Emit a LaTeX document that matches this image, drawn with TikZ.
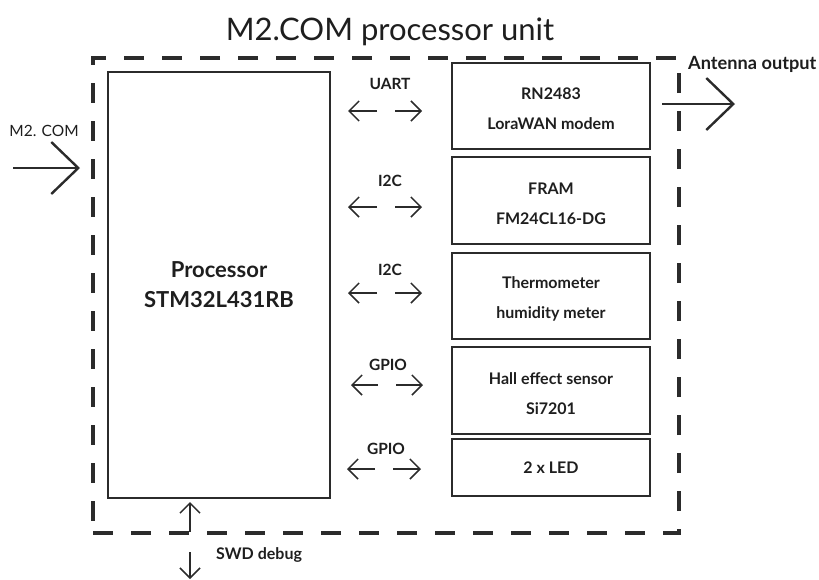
\documentclass[tikz,border=0pt]{standalone}
\usepackage{fontspec}
\setmainfont{Lato}
\usetikzlibrary{arrows.meta}
\definecolor{ink}{HTML}{2B2B2B}
\definecolor{txt}{HTML}{1E1E1E}
\begin{document}
\begin{tikzpicture}[x=1pt,y=-1pt,
  blk/.style={draw=ink, line width=1.3pt, inner sep=0pt, text=txt,
    font=\bfseries\fontsize{16}{30}\selectfont, align=center},
  btxt/.style={inner sep=0pt, text=txt, font=\bfseries\fontsize{16}{30}\selectfont, align=center},
  lbl/.style={text=txt, inner sep=0pt, font=\bfseries\fontsize{15.5}{17}\selectfont},
  sarr/.style={draw=ink, line width=1.5pt, -{Straight Barb[length=10pt,width=20pt]}},
  barr/.style={draw=ink, line width=2.4pt, -{Straight Barb[length=27pt,width=52pt]}},
  unitbox/.style={draw=ink, line width=4pt, dash pattern=on 20pt off 18pt, inner sep=0pt}
]
\useasboundingbox (0,0) rectangle (819,579);

% title
\node[anchor=base, text=txt, inner sep=0pt, font=\fontsize{31}{36}\selectfont] (title) at (390,40) {M2.COM processor unit};

% dashed unit frame
\node[unitbox, minimum width=586pt, minimum height=475pt] (unit) at (386,295.5) {};

% processor
\node[blk, font=\bfseries\fontsize{22}{30}\selectfont, minimum width=222pt, minimum height=426pt] (proc) at (219,285) {Processor\\STM32L431RB};

% peripherals
\node[blk, minimum width=198pt, minimum height=86pt] (rn) at (551,106) {};
\node[blk, minimum width=198pt, minimum height=87pt] (fram) at (551,200.5) {};
\node[blk, minimum width=198pt, minimum height=86pt] (thermo) at (551,296) {};
\node[blk, minimum width=198pt, minimum height=87pt] (hall) at (551,390.5) {};
\node[blk, minimum width=198pt, minimum height=57pt] (led) at (551,467.5) {2 x LED};
\node[btxt] (rnt) at ([yshift=-3pt]rn.center) {RN2483\\LoraWAN modem};
\node[btxt] (framt) at ([yshift=-3pt]fram.center) {FRAM\\FM24CL16-DG};
\node[btxt] (thermot) at ([yshift=-3pt]thermo.center) {Thermometer\\humidity meter};
\node[btxt] (hallt) at ([yshift=-3pt]hall.center) {Hall effect sensor\\Si7201};

% bus labels
\node[lbl] (l1) at (390,84) {UART};
\node[lbl] (l2) at (390,181) {I2C};
\node[lbl] (l3) at (390,270) {I2C};
\node[lbl] (l4) at (388,365) {GPIO};
\node[lbl] (l5) at (386,449) {GPIO};

% arrow end points
\coordinate (a1l) at (377,111); \coordinate (a1lt) at (348,111);
\coordinate (a1r) at (395,111); \coordinate (a1rt) at (422,111);
\coordinate (a2l) at (377,207); \coordinate (a2lt) at (348,207);
\coordinate (a2r) at (395,207); \coordinate (a2rt) at (422,207);
\coordinate (a3l) at (377,293); \coordinate (a3lt) at (348,293);
\coordinate (a3r) at (395,293); \coordinate (a3rt) at (422,293);
\coordinate (a4l) at (378,385); \coordinate (a4lt) at (351,385);
\coordinate (a4r) at (396,385); \coordinate (a4rt) at (423,385);
\coordinate (a5l) at (375,469); \coordinate (a5lt) at (347,469);
\coordinate (a5r) at (393,469); \coordinate (a5rt) at (421,469);
\foreach \i in {1,...,5}{
  \draw[sarr] (a\i l) -- (a\i lt);
  \draw[sarr] (a\i r) -- (a\i rt);
}

% M2.COM input
\node[text=txt, inner sep=0pt, font=\fontsize{15.5}{17}\selectfont] (m2) at (44,131) {M2. COM};
\coordinate (m2s) at (13,168); \coordinate (m2e) at (80,168);
\draw[barr] (m2s) -- (m2e);

% antenna output
\node[lbl, anchor=west, font=\bfseries\fontsize{18.2}{20}\selectfont] (ant) at (688,64) {Antenna output};
\coordinate (ants) at (662,104); \coordinate (ante) at (735,104);
\draw[barr] (ants) -- (ante);

% SWD debug
\coordinate (swu1) at (190,532); \coordinate (swu2) at (190,502);
\coordinate (swd1) at (190,552); \coordinate (swd2) at (190,579);
\draw[sarr] (swu1) -- (swu2);
\draw[sarr] (swd1) -- (swd2);
\node[lbl, anchor=west, font=\bfseries\fontsize{16}{18}\selectfont] (swd) at (216,555) {SWD debug};
\end{tikzpicture}
\end{document}
